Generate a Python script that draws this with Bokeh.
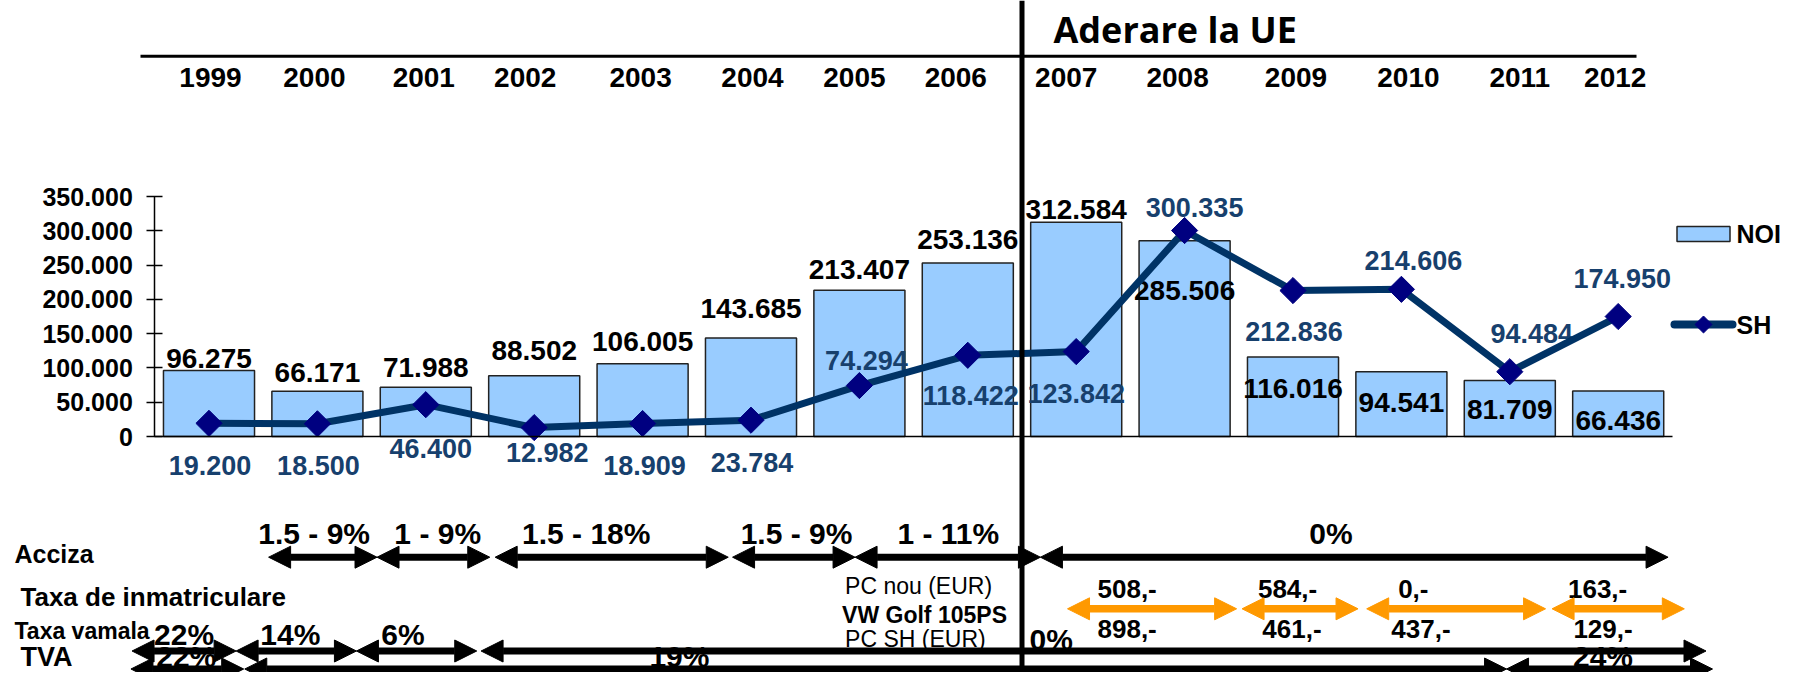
from bokeh.plotting import figure
from bokeh.models import (ColumnDataSource, Range1d, LinearAxis, FixedTicker,
                          Arrow, NormalHead, Span)
from bokeh.core.properties import value
from bokeh.embed import file_html
from bokeh.resources import INLINE
import numpy as np

# ---------------- data ----------------
years = [1999, 2000, 2001, 2002, 2003, 2004, 2005, 2006, 2007, 2008, 2009, 2010, 2011, 2012]
noi = [96275, 66171, 71988, 88502, 106005, 143685, 213407, 253136,
       312584, 285506, 116016, 94541, 81709, 66436]
sh = [19200, 18500, 46400, 12982, 18909, 23784, 74294, 118422,
      123842, 300335, 212836, 214606, 94484, 174950]
y_ticks = [0, 50000, 100000, 150000, 200000, 250000, 300000, 350000]
eu_accession = 2006.5

acciza_from = [1999.55, 2000.55, 2001.64, 2003.83, 2004.96, 2006.67]
acciza_to = [2000.55, 2001.59, 2003.79, 2004.96, 2006.67, 2012.46]
acciza_rate = ["1.5 - 9%", "1 - 9%", "1.5 - 18%", "1.5 - 9%", "1 - 11%", "0%"]
acciza_label_at = [1999.97, 2001.11, 2002.48, 2004.42, 2005.82, 2009.35]

inmatr_from = [2006.92, 2008.53, 2009.68, 2011.39]
inmatr_to = [2008.48, 2009.60, 2011.33, 2012.61]
inmatr_new_eur = ["508,-", "584,-", "0,-", "163,-"]
inmatr_sh_eur = ["898,-", "461,-", "437,-", "129,-"]
inmatr_new_at = [2007.47, 2008.95, 2010.11, 2011.81]
inmatr_sh_at = [2007.47, 2008.99, 2010.18, 2011.86]

vamala_from = [1998.29, 1999.25, 2000.36, 2001.51]
vamala_to = [1999.25, 2000.36, 2001.47, 2012.81]
vamala_rate = ["22%", "14%", "6%", "0%"]
vamala_label_at = [1998.77, 1999.75, 2000.79, 2006.77]

tva_from = [1998.28, 1999.33, 2010.97]
tva_to = [1999.32, 2010.97, 2012.87]
tva_rate = ["22%", "19%", "24%"]
tva_label_at = [1998.79, 2003.34, 2011.86]


def fmt(v):
    return f"{v:,}".replace(",", ".")


# ---------------- layout (picture pixels) ----------------
W, H = 1782, 672
X_1999, PX_YEAR = 208.5, 108.4
Y_ZERO, PX_UNIT = 436.0, 240.0 / 350000


def xd(px):
    return 1999 + (px - X_1999) / PX_YEAR


def yd(py):
    return (Y_ZERO - py) / PX_UNIT


FONT = "Liberation Sans"
SH_COLOR = "#003366"
SH_TEXT = "#17406D"
ORANGE = "#FF9900"

year_dx = [1.5, -3, -2, -9, -2, 1.5, -5, -12, -10, -7, 3, 7, 10, -3]
noi_dy = [-12, -19, -20, -25, -22, -29, -21, -23, -13, 50, 32, 31, 29, 30]
sh_dx = [1, 1, 5, 13, 2, 1, 7, 3, 0, 10, 1, 12, 22, 4]
sh_dy = [42, 42, 44, 25, 42, 42, -25, 40, 42, -23, 41, -29, -38, -38]

p = figure(width=W, height=H,
           x_range=Range1d(xd(0), xd(W)), y_range=Range1d(yd(H), yd(0)),
           output_backend="svg", toolbar_location=None,
           x_axis_location=None, y_axis_location=None, min_border=0,
           outline_line_color=None, background_fill_color="white",
           border_fill_color="white")
p.grid.visible = False


def txt(x, y, text, size, color="black", bold=True, align="center",
        baseline="middle", font=FONT, dx=None, dy=None):
    data = dict(x=list(x), y=list(y), text=list(text))
    kw = {}
    if dx is not None:
        data["dx"] = list(dx)
        kw["x_offset"] = "dx"
    if dy is not None:
        data["dy"] = list(dy)
        kw["y_offset"] = "dy"
    src = ColumnDataSource(data)
    return p.text("x", "y", "text", source=src, text_font=value(font),
                  text_font_size=f"{size}px",
                  text_font_style="bold" if bold else "normal",
                  text_color=color, text_align=align, text_baseline=baseline, **kw)


# ---- header ----
p.segment(x0=[xd(140)], y0=[yd(55.7)], x1=[xd(1636)], y1=[yd(55.7)],
          line_width=3, line_color="black")
txt(years, [yd(77)] * len(years), [str(y) for y in years], 28, dx=year_dx)
txt([xd(1053)], [yd(28.5)], ["Aderare la UE"], 36, font="Open Sans", align="left")

# ---- axes ----
yax = LinearAxis(fixed_location=years[0] - 0.5, bounds=(0, 350000),
                 ticker=FixedTicker(ticks=y_ticks),
                 major_label_overrides={t: fmt(t) for t in y_ticks},
                 major_tick_in=8, major_tick_out=8, minor_tick_line_color=None,
                 major_label_standoff=14, axis_line_width=1.5,
                 axis_line_color="black", major_tick_line_color="black",
                 major_tick_line_width=1.5,
                 major_label_text_color="black",
                 major_label_text_font=FONT, major_label_text_font_style="bold",
                 major_label_text_font_size="25px")
p.add_layout(yax, "left")
xax = LinearAxis(fixed_location=0, bounds=(years[0] - 0.5, years[-1] + 0.5),
                 ticker=FixedTicker(ticks=[]), axis_line_width=1.5,
                 axis_line_color="black",
                 major_tick_in=0, major_tick_out=0, minor_tick_line_color=None)
p.add_layout(xax, "below")

# ---- bars and line ----
src = ColumnDataSource(dict(year=years, noi=noi, sh=sh))
p.vbar(x="year", top="noi", bottom=0, width=0.84, source=src,
       fill_color="#99CCFF", line_color="#222222", line_width=1.5)
txt(years, noi, [fmt(v) for v in noi], 28, dy=noi_dy)
txt(years, sh, [fmt(v) for v in sh], 27, color=SH_TEXT, dx=sh_dx, dy=sh_dy)
p.line("year", "sh", source=src, line_color=SH_COLOR, line_width=7)
p.scatter("year", "sh", source=src, marker="square", size=18.5, angle=np.pi / 4,
          fill_color="#000080", line_color="#000080")

# ---- legend ----
p.rect(x=[xd(1703)], y=[yd(233.5)], width=53, height=15,
       width_units="screen", height_units="screen",
       fill_color="#99CCFF", line_color="#222222", line_width=1.5)
p.segment(x0=[xd(1674)], y0=[yd(324)], x1=[xd(1732)], y1=[yd(324)],
          line_width=8, line_color=SH_COLOR, line_cap="round")
p.scatter(x=[xd(1703)], y=[yd(324)], marker="square", size=12, angle=np.pi / 4,
          fill_color="#000080", line_color="#000080")
txt([xd(1736)], [yd(233.5)], ["NOI"], 25, align="left")
txt([xd(1736)], [yd(324)], ["SH"], 25, align="left")

# ---- tax rows ----
txt([xd(14)], [yd(553)], ["Acciza"], 25, align="left")
txt([xd(20)], [yd(596.7)], ["Taxa de inmatriculare"], 26, align="left")
txt([xd(14)], [yd(630)], ["Taxa vamala"], 23, align="left")
txt([xd(20)], [yd(656)], ["TVA"], 27, align="left")

txt(acciza_label_at, [yd(533)] * len(acciza_rate), acciza_rate, 30)
txt(inmatr_new_at, [yd(588)] * 4, inmatr_new_eur, 26)
txt(inmatr_sh_at, [yd(628)] * 4, inmatr_sh_eur, 26)
txt(vamala_label_at, [yd(634), yd(634), yd(634), yd(639)], vamala_rate, 30)
txt(tva_label_at, [yd(656)] * 3, tva_rate, 30)

txt([xd(844.6)], [yd(585)], ["PC nou (EUR)"], 23, bold=False, align="left")
txt([xd(841.6)], [yd(614)], ["VW Golf 105PS"], 23, align="left")
txt([xd(844.6)], [yd(638)], ["PC SH (EUR)"], 23, bold=False, align="left")


def arrows(x0, x1, py, color, lw=7, head=22):
    s = ColumnDataSource(dict(x0=x0, x1=x1, y=[yd(py)] * len(x0)))
    p.add_layout(Arrow(x_start="x0", y_start="y", x_end="x1", y_end="y", source=s,
                       line_color=color, line_width=lw,
                       start=NormalHead(size=head, fill_color=color, line_color=color),
                       end=NormalHead(size=head, fill_color=color, line_color=color)))


arrows(acciza_from, acciza_to, 556.7, "black")
arrows(inmatr_from, inmatr_to, 608.3, ORANGE, lw=7.5)
arrows(vamala_from, vamala_to, 650.5, "black")
arrows(tva_from, tva_to, 668.5, "black")

p.add_layout(Span(location=eu_accession, dimension="height",
                  line_color="black", line_width=5))

open("out.html", "w").write(file_html(p, INLINE))
